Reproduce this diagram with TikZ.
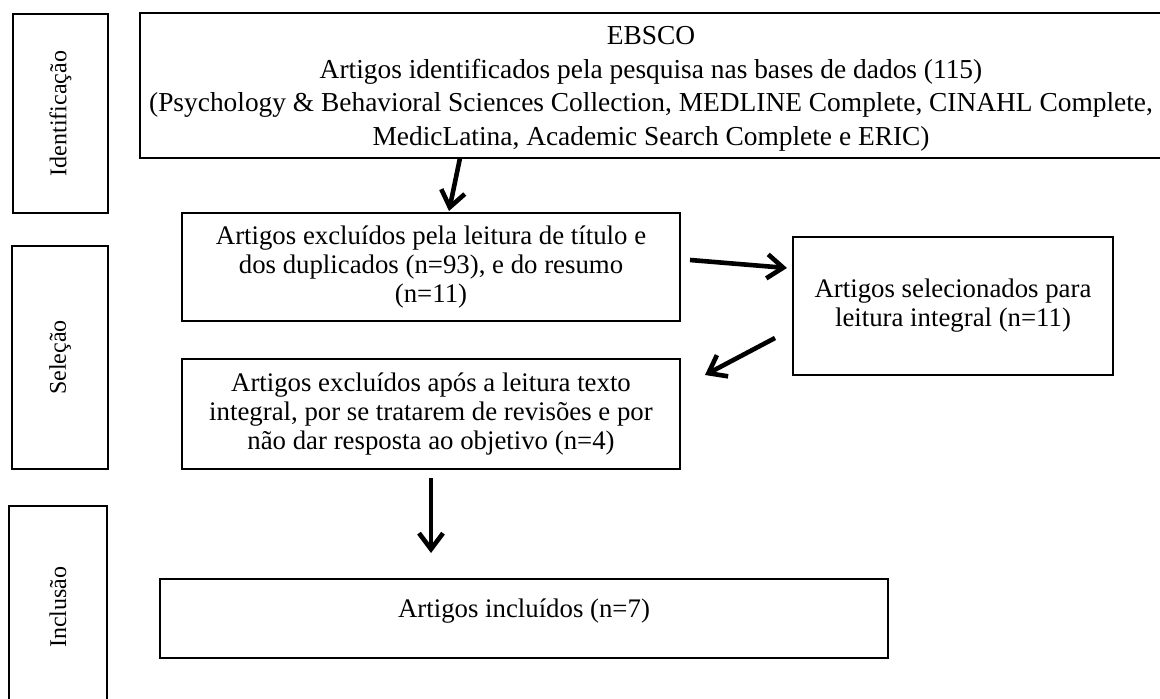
\documentclass[tikz,border=0pt]{standalone}
\usepackage{fontspec}
\setmainfont{Liberation Serif}
\usetikzlibrary{arrows.meta}
\begin{document}
\begin{tikzpicture}[x=0.5pt,y=-0.5pt,
  box/.style={draw, line width=1.1pt, inner sep=0pt, align=center,
    font=\fontsize{13.4}{14.5}\selectfont},
  lbl/.style={inner sep=0pt, font=\fontsize{12}{14}\selectfont},
  arr/.style={line width=2.3pt, -{Straight Barb[length=8pt,width=12pt,line width=2.3pt]}}]
\useasboundingbox (0,0) rectangle (1160,699);
% stage boxes
\node[box, minimum width=47.5pt, minimum height=99.5pt] (idf) at (60.5,113.5) {};
\node[lbl, rotate=90] (idft) at (idf) {Identificação};
\node[box, minimum width=48pt, minimum height=111.5pt] (sel) at (60,357.5) {};
\node[lbl, rotate=90] (selt) at (sel) {Seleção};
\node[box, minimum width=49pt, minimum height=101pt] (inc) at (58,607) {};
\node[lbl, rotate=90] (inct) at (inc) {Inclusão};
% flow boxes
\node[box, minimum width=511pt, minimum height=72.5pt] (ebsco) at (651,85.5) {};
\node[lbl, align=center, font=\fontsize{13.7}{16.8}\selectfont] (ebscot) at (651,89)
  {EBSCO\\Artigos identificados pela pesquisa nas bases de dados (115)\\(Psychology \& Behavioral Sciences Collection, MEDLINE Complete, CINAHL Complete,\\MedicLatina, Academic Search Complete e ERIC)};
\node[box, minimum width=249pt, minimum height=54pt] (b2) at (431,267)
  {Artigos excluídos pela leitura de título e\\dos duplicados (n=93), e do resumo\\(n=11)};
\node[box, minimum width=249pt, minimum height=55pt] (b4) at (431,414)
  {Artigos excluídos após a leitura texto\\integral, por se tratarem de revisões e por\\não dar resposta ao objetivo (n=4)};
\node[box, minimum width=160pt, minimum height=69pt] (selb) at (953,306)
  {Artigos selecionados para\\leitura integral (n=11)};
\node[box, minimum width=364pt, minimum height=39.5pt] (incb) at (524,618.5) {};
\node[lbl, font=\fontsize{13.4}{14.5}\selectfont] (incbt) at (524,611) {Artigos incluídos (n=7)};
% arrows
\coordinate (a1s) at (460,158);
\coordinate (a1e) at (449,211);
\coordinate (a2s) at (690,260);
\coordinate (a2e) at (787,268);
\coordinate (a3s) at (775,338);
\coordinate (a3e) at (705,375);
\coordinate (a4s) at (431,478);
\coordinate (a4e) at (431,553);
\draw[arr] (a1s) -- (a1e);
\draw[arr] (a2s) -- (a2e);
\draw[arr] (a3s) -- (a3e);
\draw[arr] (a4s) -- (a4e);
\end{tikzpicture}
\end{document}
